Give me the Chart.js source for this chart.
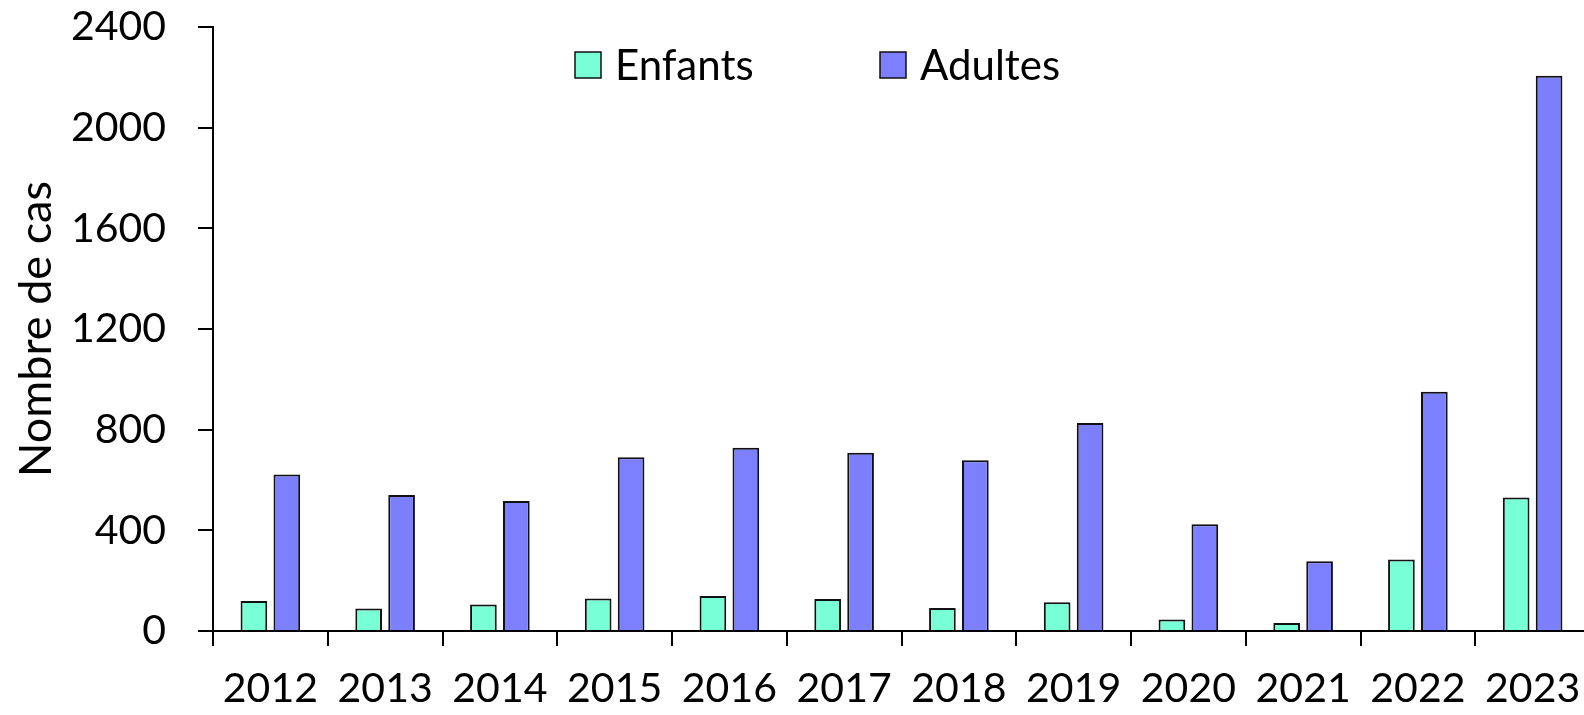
<!DOCTYPE html>
<html>
<head>
<meta charset="utf-8">
<script src="https://cdn.jsdelivr.net/npm/chart.js@4.4.0/dist/chart.umd.min.js"></script>
<style>
  html, body { margin: 0; padding: 0; background: #fff; overflow: hidden; }
  #wrap { width: 1600px; height: 715px; }
</style>
</head>
<body>
<div id="wrap"><canvas id="mycanvas" width="1600" height="715"></canvas></div>
<script>
var years = ['2012', '2013', '2014', '2015', '2016', '2017', '2018', '2019', '2020', '2021', '2022', '2023'];
var enfants = [119, 89, 105, 129, 139, 127, 91, 114, 46, 32, 284, 530];
var adultes = [622, 540, 517, 690, 728, 708, 678, 826, 424, 277, 951, 2206];
var yTicks = [0, 400, 800, 1200, 1600, 2000, 2400];

var FONT = 'Lato, "Open Sans", sans-serif';

// legend drawn inside the plot, at the top
var innerLegend = {
	id: 'innerLegend',
	afterDraw: function(chart) {
		var ctx = chart.ctx;
		var xs = [575, 880];
		ctx.save();
		ctx.font = '42px ' + FONT;
		ctx.textBaseline = 'middle';
		ctx.fillStyle = '#000';
		chart.data.datasets.forEach(function(ds, i) {
			ctx.fillStyle = ds.backgroundColor;
			ctx.fillRect(xs[i], 52, 26, 26);
			ctx.lineWidth = 1.5;
			ctx.strokeStyle = '#111';
			ctx.strokeRect(xs[i], 52, 26, 26);
			ctx.fillStyle = '#000';
			ctx.fillText(ds.label, xs[i] + 40, 66);
		});
		ctx.restore();
	}
};

var chartdata = {
	labels: years,
	datasets: [
		{
			label: 'Enfants',
			backgroundColor: '#78FFD6',
			borderColor: '#111',
			borderWidth: 2,
			data: enfants
		},
		{
			label: 'Adultes',
			backgroundColor: '#7C80FF',
			borderColor: '#111',
			borderWidth: 2,
			data: adultes
		}
	]
};

var ctx = document.getElementById('mycanvas');

var barGraph = new Chart(ctx, {
	type: 'bar',
	data: chartdata,
	plugins: [innerLegend],
	options: {
		responsive: false,
		animation: false,
		datasets: {
			bar: { categoryPercentage: 0.574, barPercentage: 0.81 }
		},
		layout: { padding: { left: 0, top: 27, right: 10, bottom: 0 } },
		plugins: {
			legend: { display: false },
			tooltip: { enabled: false }
		},
		scales: {
			x: {
				grid: { drawOnChartArea: false, drawTicks: true, tickLength: 15, color: '#000', lineWidth: 2 },
				border: { color: '#000', width: 2 },
				ticks: { color: '#000', font: { family: FONT, size: 41 }, padding: 18, maxRotation: 0, autoSkip: false },
				afterFit: function(scale) { scale.height = 84; }
			},
			y: {
				min: 0,
				max: 2400,
				afterBuildTicks: function(scale) {
					scale.ticks = yTicks.map(function(v) { return { value: v }; });
				},
				grid: { drawOnChartArea: false, drawTicks: true, tickLength: 15, color: '#000', lineWidth: 2 },
				border: { color: '#000', width: 2 },
				ticks: {
					color: '#000',
					font: { family: FONT, size: 41 },
					padding: 32,
					callback: function(v) { return String(v); }
				},
				title: {
					display: true,
					text: 'Nombre de cas',
					color: '#000',
					font: { family: FONT, size: 45 },
					padding: { top: 9, bottom: 0 }
				},
				afterFit: function(scale) {
					scale.width = 213;
					// tick padding should not push the plot top down
					scale.paddingTop = 0;
					scale.paddingBottom = 0;
				}
			}
		}
	}
});
</script>
</body>
</html>
